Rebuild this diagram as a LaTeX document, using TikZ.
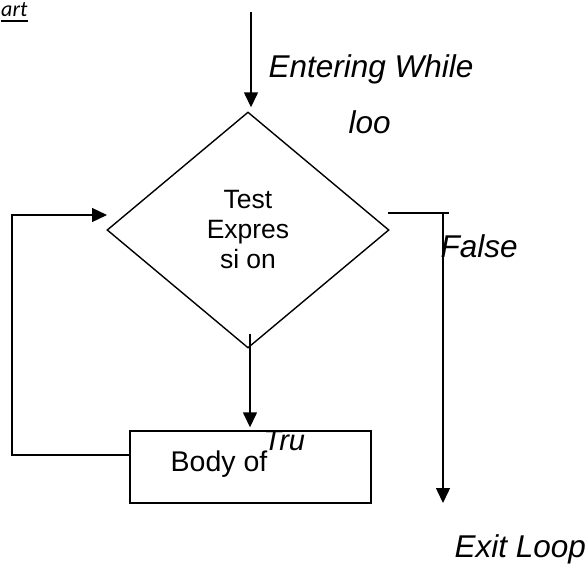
\documentclass[tikz,border=0pt]{standalone}
\usepackage{fontspec}
\setmainfont{Liberation Sans}
\newfontfamily\headfont{Carlito}
\usetikzlibrary{shapes.geometric,arrows.meta}

\begin{document}
\begin{tikzpicture}[x=1pt,y=-1pt,
  line width=1.4pt,
  arr/.style={-{Triangle[length=15pt,width=14pt]}},
  lbl/.style={font=\fontsize{31.5}{31.5}\selectfont\itshape, inner sep=0pt, anchor=base west},
  plain/.style={font=\fontsize{28.5}{28.5}\selectfont, inner sep=0pt, anchor=base west},
  decision/.style={draw, diamond, minimum width=282pt, minimum height=236pt,
    inner sep=0pt, line width=1.4pt, align=center, font=\fontsize{26.5}{30}\selectfont},
  process/.style={draw, rectangle, minimum width=241pt, minimum height=72pt,
    inner sep=0pt, line width=1.4pt}]
\useasboundingbox (0,0) rectangle (587,563);

% heading fragment with its underline
\node[font=\headfont\fontsize{22}{22}\selectfont\itshape, inner sep=0pt, anchor=base west] (head) at (0.5,16) {art};
\draw[line width=2.2pt] (head.south west |- 0,21) -- (head.south east |- 0,21);

% shapes
\node[decision] (dia) at (248,230) {Test\\Expres\\si on};
\node[process] (body) at (250.5,467) {};

% labels
\node[lbl] (enter) at (268,77) {Entering While};
\node[lbl] (loo) at (348,133) {loo};
\node[lbl] (false) at (440,257) {False};
\node[lbl] (exit) at (454,557) {Exit Loop};
\node[lbl, font=\fontsize{29}{29}\selectfont\itshape] (tru) at (263,450) {Tru};
\node[plain] (bodytxt) at (170,471) {Body of};

% entry arrow
\coordinate (start) at (251,12);
\draw[arr, shorten >=4pt] (start) -- (start |- dia.north);

% true branch
\draw[arr, shorten >=3pt] ([shift={(2pt,15pt)}]dia.south) -- ([xshift=2pt]dia.south |- body.north);

% loop back
\coordinate (loopcorner) at (12,215);
\coordinate (loopin) at (107,215);
\draw[arr] ([yshift=12pt]body.west) -| (loopcorner) -- (loopin);

% false branch
\coordinate (ftick) at (388,213);
\coordinate (fend) at (449,213);
\coordinate (fdown) at (443,213);
\coordinate (fexit) at (443,503);
\draw (ftick) -- (fend);
\draw[arr] (fdown) -- (fexit);
\end{tikzpicture}
\end{document}
